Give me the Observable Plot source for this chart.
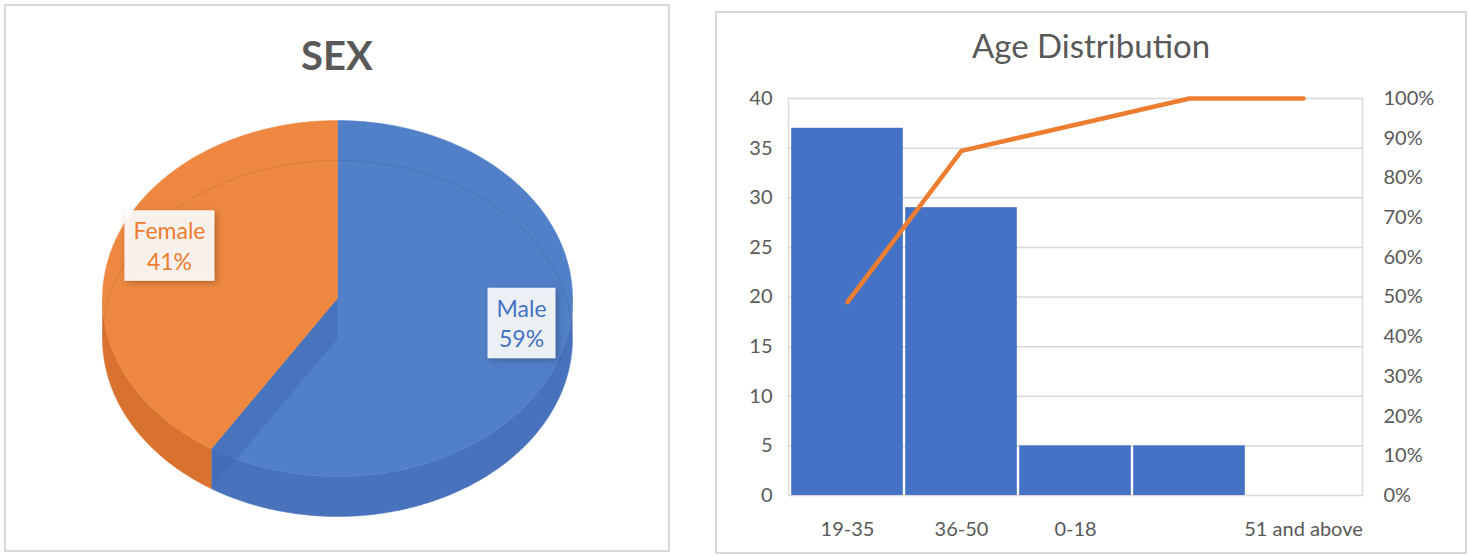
<!DOCTYPE html>
<html>
<head>
<meta charset="utf-8">
<script src="https://cdn.jsdelivr.net/npm/d3@7"></script>
<script src="https://cdn.jsdelivr.net/npm/@observablehq/plot@0.6"></script>
<style>
  html, body { margin: 0; padding: 0; background: #fff; }
  #page { position: relative; width: 1469px; height: 556px; overflow: hidden; font-family: Lato, "Open Sans", sans-serif; }
  .panel { position: absolute; box-sizing: border-box; border: 2px solid #d9d9d9; background: #fff; }
  .title { position: absolute; text-align: center; color: #595959; line-height: 1; white-space: nowrap; }
  #pie, #pareto { position: absolute; }
</style>
</head>
<body>
<div id="page">
  <div class="panel" style="left:4px; top:4px; width:666px; height:548px;"></div>
  <div class="panel" style="left:715px; top:11px; width:752px; height:543px;"></div>
  <div class="title" style="left:4px; width:666px; top:35px; font-size:40px; font-weight:700;">SEX</div>
  <div class="title" style="left:715px; width:752px; top:29px; font-size:33px;">Age Distribution</div>
  <div id="pie" style="left:0px; top:90px;"></div>
  <div id="pareto" style="left:715px; top:80px;"></div>
</div>
<script>
// ---------- data ----------
const sexLabels = ["Male", "Female"];
const sexValues = [59, 41];

const ageCats = ["19-35", "36-50", "0-18", "", "51 and above"];
const ageCounts = [37, 29, 5, 5, 0];
const ageCumPct = [48.7, 86.8, 93.4, 100, 100];

const countTicks = [0, 5, 10, 15, 20, 25, 30, 35, 40];
const pctTicks = [0, 10, 20, 30, 40, 50, 60, 70, 80, 90, 100];

// ---------- styles ----------
const topColor = {Male: "#5180C8", Female: "#EE8840"};
const sideColor = {Male: "#4872BC", Female: "#D8722E"};
const textColor = {Male: "#4472C4", Female: "#ED7D31"};

// ---------- pie geometry (unit ellipse, scales do the layout) ----------
const D = 40 / 178; // side depth in unit radii
const total = d3.sum(sexValues);
let acc = 0;
const slices = sexLabels.map((k, i) => {
  const a0 = acc / total * 2 * Math.PI;
  acc += sexValues[i];
  return {k, v: sexValues[i], a0, a1: acc / total * 2 * Math.PI};
});
const P = (t, r = 1, dz = 0) => ({x: r * Math.sin(t), y: r * Math.cos(t) - dz});
function arcPts(a0, a1, r = 1, dz = 0) {
  const n = Math.max(2, Math.ceil(Math.abs(a1 - a0) / 0.01));
  return d3.range(n + 1).map(j => P(a0 + (a1 - a0) * j / n, r, dz));
}
const marks = [];
// side walls (front half only)
slices.forEach(s => {
  const a = Math.max(s.a0, Math.PI / 2), b = Math.min(s.a1, 3 * Math.PI / 2);
  if (a < b) {
    const pts = arcPts(a, b).concat(arcPts(a, b, 1, D).reverse());
    marks.push(Plot.line(pts, {x: "x", y: "y", fill: sideColor[s.k], stroke: sideColor[s.k], strokeWidth: 0.5}));
  }
});
// top faces
slices.forEach(s => {
  const pts = [{x: 0, y: 0}].concat(arcPts(s.a0, s.a1), [{x: 0, y: 0}]);
  marks.push(Plot.line(pts, {x: "x", y: "y", fill: topColor[s.k], stroke: topColor[s.k], strokeWidth: 0.5}));
});
// cut face seen through the translucent top (at the Male/Female boundary)
{
  const t = slices[0].a1;
  const e = P(t), eb = P(t, 1, D);
  const pts = [{x: 0, y: 0}, {x: 0, y: -D}, eb, e];
  marks.push(Plot.line(pts, {x: "x", y: "y", fill: "#3F69B2", fillOpacity: 0.55, stroke: "none"}));
}
// faint back edge of the bottom rim seen through the top
marks.push(Plot.line(arcPts(-Math.PI / 2, Math.PI / 2, 1, D), {x: "x", y: "y", stroke: "#000", strokeOpacity: 0.08, strokeWidth: 1.2}));
// labels
slices.forEach(s => {
  const m = (s.a0 + s.a1) / 2;
  const p = P(m, 0.78);
  marks.push(Plot.text([{...p, label: s.k + "\n" + s.v + "%"}], {
    x: "x", y: "y", text: "label", dx: 8, dy: -15, fill: textColor[s.k],
    fontSize: 23, lineHeight: 1.33, fontFamily: "Lato"
  }));
});

const pieSvg = Plot.plot({
  width: 680, height: 450,
  marginLeft: 0, marginRight: 0, marginTop: 0, marginBottom: 0,
  x: {domain: [-1, 1], range: [102, 572], axis: null},
  y: {domain: [-1, 1], range: [386, 30], axis: null},
  style: {background: "transparent", fontFamily: "Lato"},
  marks
});
document.getElementById("pie").append(pieSvg);
// label boxes behind texts
const ns = "http://www.w3.org/2000/svg";
pieSvg.querySelectorAll('g[aria-label="text"] text').forEach(t => {
  const b = t.getBBox();
  const r = document.createElementNS(ns, "rect");
  const px = 9, py = 8;
  r.setAttribute("x", b.x - px);
  r.setAttribute("y", b.y - py + 2);
  r.setAttribute("width", b.width + 2 * px);
  r.setAttribute("height", b.height + 2 * py - 4);
  r.setAttribute("fill", "rgba(255,255,255,0.9)");
  r.setAttribute("style", "filter: drop-shadow(2px 2px 3px rgba(0,0,0,0.28))");
  const tr = t.getAttribute("transform");
  if (tr) r.setAttribute("transform", tr);
  t.parentNode.insertBefore(r, t);
});

// ---------- pareto ----------
const ageRows = ageCats.map((c, i) => ({cat: c, count: ageCounts[i], cum: ageCumPct[i]}));
const pctToCount = 40 / 100;

const paretoSvg = Plot.plot({
  width: 752, height: 472,
  marginLeft: 73, marginRight: 105, marginTop: 18, marginBottom: 57,
  x: {domain: ageCats, type: "band", padding: 0},
  y: {domain: [0, 40]},
  style: {background: "transparent", fontFamily: "Lato", fontSize: "20px", color: "#595959"},
  marks: [
    Plot.gridY(countTicks.filter(t => t > 0 && t < 40), {stroke: "#d9d9d9", strokeOpacity: 1, strokeWidth: 1.5}),
    Plot.frame({stroke: "#d9d9d9", strokeWidth: 1.5}),
    Plot.barY(ageRows, {x: "cat", y: "count", fill: "#4472C4", insetLeft: 1.2, insetRight: 1.2}),
    Plot.lineY(ageRows, {x: "cat", y: d => d.cum * pctToCount, stroke: "#ED7D31", strokeWidth: 4.5, strokeLinecap: "round", strokeLinejoin: "round"}),
    Plot.axisY({anchor: "left", ticks: countTicks, tickSize: 0, tickPadding: 16, label: null, fontSize: 20, fill: "#595959"}),
    Plot.axisY({anchor: "right", ticks: pctTicks.map(p => p * pctToCount), tickFormat: d => Math.round(d / pctToCount) + "%", tickSize: 0, tickPadding: 21, label: null, fontSize: 20, fill: "#595959"}),
    Plot.axisX({tickSize: 0, tickPadding: 26, label: null, fontSize: 20, fill: "#595959"})
  ]
});
document.getElementById("pareto").append(paretoSvg);
</script>
</body>
</html>
